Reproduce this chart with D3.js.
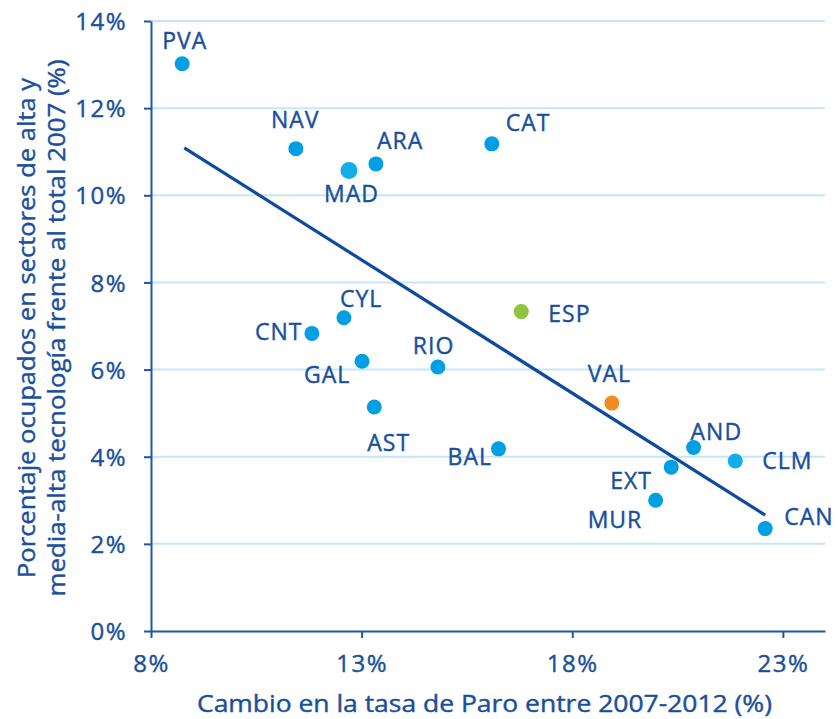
<!DOCTYPE html>
<html>
<head>
<meta charset="utf-8">
<script src="https://cdn.jsdelivr.net/npm/d3@7"></script>
<style>
  body { margin: 0; background: #fff; }
  text { font-family: "Open Sans", sans-serif; fill: #1a4f9d; stroke: #1a4f9d; stroke-width: 0.4px; }
</style>
</head>
<body>
<div id="chart"></div>
<script>
// data
var regions = ["PVA", "NAV", "MAD", "ARA", "CAT", "CYL", "CNT", "GAL", "RIO", "AST", "BAL", "ESP", "VAL", "AND", "CLM", "EXT", "MUR", "CAN"];
var paroChange = [8.74, 11.44, 12.70, 13.34, 16.09, 12.58, 11.82, 13.01, 14.81, 13.30, 16.25, 16.79, 18.94, 20.88, 21.87, 20.35, 19.98, 22.58];
var techShare = [13.02, 11.07, 10.57, 10.72, 11.18, 7.19, 6.83, 6.19, 6.06, 5.14, 4.18, 7.33, 5.23, 4.21, 3.90, 3.76, 3.00, 2.35];
var trendX = [8.79, 22.58];
var trendY = [11.09, 2.66];
var xTicks = [8, 13, 18, 23];
var yTicks = [0, 2, 4, 6, 8, 10, 12, 14];

// label placement (dx, dy from the dot, text-anchor start)
var labelOffset = {
  PVA: [-20, -15], NAV: [-25, -21], MAD: [-25, 32], ARA: [1, -15], CAT: [14, -13],
  CYL: [-4, -11], CNT: [-57, 7], GAL: [-58, 22], RIO: [-25, -13], AST: [-7, 44],
  BAL: [-51, 16], ESP: [27, 10], VAL: [-24, -21], AND: [-3, -8], CLM: [27, 8],
  EXT: [-61, 22], MUR: [-68, 28], CAN: [19, -4]
};

var dotColor = function(r) {
  if (r == "ESP") return "#8cc63f";
  if (r == "VAL") return "#f28c22";
  if (r == "MAD" || r == "CLM") return "#13ade9";
  return "#009fe3";
};

var W = 839, H = 719;
var svg = d3.select("#chart").append("svg")
  .attr("width", W)
  .attr("height", H);

var x = d3.scaleLinear().domain([8, 24]).range([151, 825]);
var y = d3.scaleLinear().domain([0, 14]).range([631, 21]);

// gridlines
svg.append("g")
  .selectAll("line")
  .data(yTicks.filter(function(d) { return d > 0; }))
  .enter().append("line")
    .attr("x1", x(8))
    .attr("x2", x(24))
    .attr("y1", function(d) { return y(d); })
    .attr("y2", function(d) { return y(d); })
    .attr("stroke", "#c4e6f8")
    .attr("stroke-width", 2);

// axes
var yAxis = svg.append("g")
  .attr("transform", "translate(" + x(8) + ",0)")
  .call(d3.axisLeft(y).tickValues(yTicks).tickFormat(function(d) { return d + "%"; }).tickSize(7).tickSizeOuter(0).tickPadding(17));

var xAxis = svg.append("g")
  .attr("transform", "translate(0," + y(0) + ")")
  .call(d3.axisBottom(x).tickValues(xTicks).tickFormat(function(d) { return d + "%"; }).tickSize(7).tickSizeOuter(0).tickPadding(17));

[xAxis, yAxis].forEach(function(a) {
  a.select(".domain").attr("stroke", "#1f56a5").attr("stroke-width", 2);
  a.selectAll(".tick line").attr("stroke", "#1f56a5").attr("stroke-width", 2);
  a.selectAll(".tick text")
    .style("font-family", "'Open Sans', sans-serif")
    .style("font-size", "24px")
    .style("letter-spacing", "1.5px")
    .attr("fill", "#1a4f9d");
});
yAxis.selectAll(".tick text").attr("dy", "0.36em");

// trend line
svg.append("line")
  .attr("x1", x(trendX[0]))
  .attr("y1", y(trendY[0]))
  .attr("x2", x(trendX[1]))
  .attr("y2", y(trendY[1]))
  .attr("stroke", "#0e4a9e")
  .attr("stroke-width", 3.2);

var pts = regions.map(function(r, i) {
  return { name: r, px: paroChange[i], ty: techShare[i] };
});

// dots
svg.append("g")
  .selectAll("circle")
  .data(pts)
  .enter().append("circle")
    .attr("cx", function(d) { return x(d.px); })
    .attr("cy", function(d) { return y(d.ty); })
    .attr("r", function(d) { return d.name == "MAD" ? 8.5 : 7.5; })
    .attr("fill", function(d) { return dotColor(d.name); });

// labels
svg.append("g")
  .selectAll("text")
  .data(pts)
  .enter().append("text")
    .attr("x", function(d) { return x(d.px) + labelOffset[d.name][0]; })
    .attr("y", function(d) { return y(d.ty) + labelOffset[d.name][1]; })
    .style("font-size", "23px")
    .style("letter-spacing", "1px")
    .text(function(d) { return d.name; });

// axis titles
svg.append("text")
  .attr("x", 197)
  .attr("y", 712)
  .attr("textLength", 575)
  .attr("lengthAdjust", "spacingAndGlyphs")
  .style("font-size", "23px")
  .text("Cambio en la tasa de Paro entre 2007-2012 (%)");

svg.append("text")
  .attr("transform", "translate(35,328) rotate(-90)")
  .attr("text-anchor", "middle")
  .attr("textLength", 500)
  .attr("lengthAdjust", "spacingAndGlyphs")
  .style("font-size", "23px")
  .text("Porcentaje ocupados en sectores de alta y");

svg.append("text")
  .attr("transform", "translate(65,328) rotate(-90)")
  .attr("text-anchor", "middle")
  .attr("textLength", 537)
  .attr("lengthAdjust", "spacingAndGlyphs")
  .style("font-size", "23px")
  .text("media-alta tecnología frente al total 2007 (%)");
</script>
</body>
</html>
